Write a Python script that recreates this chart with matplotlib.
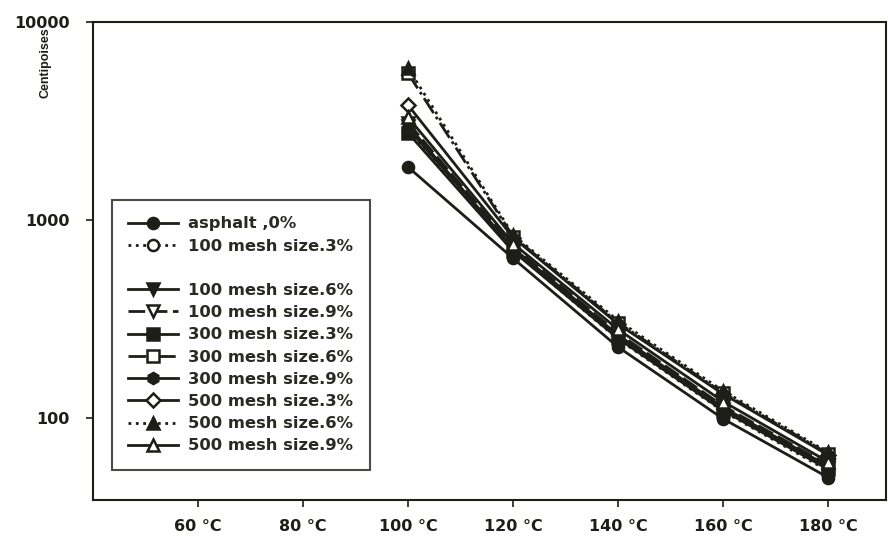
import matplotlib
matplotlib.use('Agg')
import matplotlib.pyplot as plt
from matplotlib.lines import Line2D

plt.rcParams['font.family'] = ['DejaVu Sans']
plt.rcParams['font.weight'] = 'bold'

# temperatures (°C)
temps = [100, 120, 140, 160, 180]
tick_temps = [60, 80, 100, 120, 140, 160, 180]
tick_labels = ['60 °C', '80 °C', '100 °C', '120 °C', '140 °C', '160 °C', '180 °C']

# viscosity in centipoises
asphalt_0 = [1850, 640, 228, 99, 50]
m100_3 = [2800, 700, 250, 108, 54]
m100_6 = [3000, 715, 258, 111, 56]
m100_9 = [3100, 735, 268, 115, 58]
m300_3 = [2750, 695, 252, 109, 55]
m300_6 = [5500, 825, 303, 134, 66]
m300_9 = [2900, 720, 262, 113, 57]
m500_3 = [3800, 815, 298, 132, 65]
m500_6 = [5850, 840, 310, 137, 67]
m500_9 = [3300, 760, 280, 121, 60]

labels = ['asphalt ,0%', '100 mesh size.3%', '100 mesh size.6%', '100 mesh size.9%',
          '300 mesh size.3%', '300 mesh size.6%', '300 mesh size.9%',
          '500 mesh size.3%', '500 mesh size.6%', '500 mesh size.9%']
series = [asphalt_0, m100_3, m100_6, m100_9, m300_3, m300_6, m300_9, m500_3, m500_6, m500_9]
markers = ['o', 'o', 'v', 'v', 's', 's', 'h', 'D', '^', '^']
filled = [True, False, True, False, True, False, True, False, True, False]
styles = ['-', ':', '-', (0, (6, 2)), '-', '-.', '-', '-', ':', '-']

ink = '#1e1e18'

fig = plt.figure(figsize=(8.88, 5.42), dpi=100)
ax = fig.add_axes([0.1047, 0.0775, 0.8930, 0.8819])

handles = []
for vals, lab, mk, fl, ls in zip(series, labels, markers, filled, styles):
    h, = ax.plot(temps, vals, linestyle=ls, color=ink, linewidth=2.0,
                 marker=mk, markersize=8 if mk != 'D' else 7,
                 markerfacecolor=ink if fl else 'white',
                 markeredgecolor=ink, markeredgewidth=1.8, label=lab)
    handles.append(h)

ax.set_yscale('log')
ax.set_ylim(38.5, 10000)
ax.set_xlim(40, 191)
ax.set_yticks([100, 1000, 10000])
ax.set_yticklabels(['100', '1000', '10000'])
ax.minorticks_off()
ax.set_xticks(tick_temps)
ax.set_xticklabels(tick_labels)
ax.tick_params(axis='both', direction='out', length=5, width=1.2, colors=ink)
ax.tick_params(axis='x', pad=9, labelsize=11.5)
ax.tick_params(axis='y', pad=12, labelsize=11.5)
for s in ax.spines.values():
    s.set_linewidth(1.5)
    s.set_color(ink)

fig.text(45 / 888, 1 - 63 / 542, 'Centipoises', rotation=90, ha='center',
         va='center', fontsize=9, fontweight='bold', color=ink,
         family=['Liberation Sans', 'DejaVu Sans'])

# legend has an empty row after the second entry
blank = Line2D([], [], linestyle='none', marker='none')
leg_handles = handles[:2] + [blank] + handles[2:]
leg_labels = labels[:2] + [' '] + labels[2:]
leg = ax.legend(leg_handles, leg_labels, loc='lower left',
                bbox_to_anchor=(0.024, 0.063), borderaxespad=0,
                frameon=True, fancybox=False, edgecolor=ink,
                handlelength=3.0, handletextpad=0.65, labelspacing=0.44,
                fontsize=11.8, borderpad=1.0)
leg.get_frame().set_linewidth(1.5)
for t in leg.get_texts():
    t.set_color('#2a2a24')

fig.savefig('out.png', dpi=100)
